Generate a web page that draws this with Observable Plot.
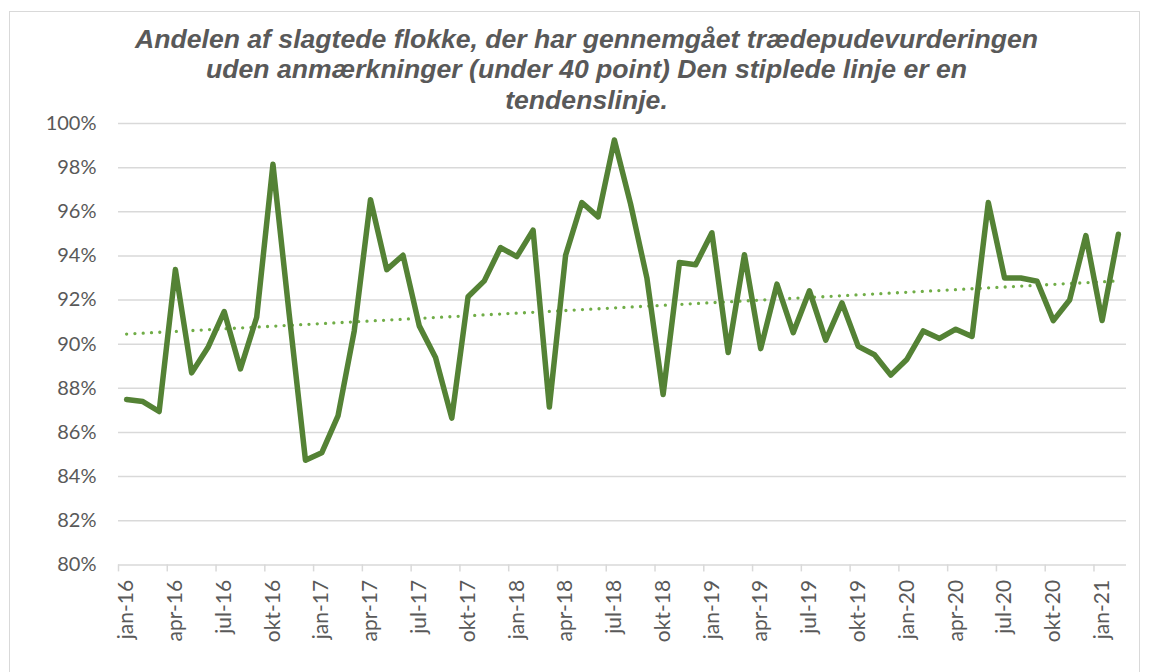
<!DOCTYPE html>
<html><head><meta charset="utf-8">
<script src="https://cdn.jsdelivr.net/npm/d3@7"></script>
<script src="https://cdn.jsdelivr.net/npm/@observablehq/plot@0.6"></script>
<style>
html,body{margin:0;padding:0;background:#fff;width:1149px;height:672px;overflow:hidden;}
#frame{position:absolute;left:9px;top:11px;width:1131px;height:700px;border:1px solid #d9d9d9;box-sizing:border-box;pointer-events:none;z-index:5;}
#title{position:relative;height:114px;box-sizing:border-box;padding-top:23.5px;padding-left:24px;font-family:"Liberation Sans",Arial,sans-serif;font-weight:bold;font-style:italic;font-size:26.6px;line-height:30.5px;color:#595959;text-align:center;white-space:nowrap;}
#chart{position:relative;}
#chart svg{background:transparent !important;}
</style></head><body>
<div id="frame"></div>
<div id="title">Andelen af slagtede flokke, der har gennemgået trædepudevurderingen<br>uden anmærkninger (under 40 point) Den stiplede linje er en<br>tendenslinje.</div>
<div id="chart"></div>
<script>
const months = ["jan-16","feb-16","mar-16","apr-16","maj-16","jun-16","jul-16","aug-16","sep-16","okt-16","nov-16","dec-16",
"jan-17","feb-17","mar-17","apr-17","maj-17","jun-17","jul-17","aug-17","sep-17","okt-17","nov-17","dec-17",
"jan-18","feb-18","mar-18","apr-18","maj-18","jun-18","jul-18","aug-18","sep-18","okt-18","nov-18","dec-18",
"jan-19","feb-19","mar-19","apr-19","maj-19","jun-19","jul-19","aug-19","sep-19","okt-19","nov-19","dec-19",
"jan-20","feb-20","mar-20","apr-20","maj-20","jun-20","jul-20","aug-20","sep-20","okt-20","nov-20","dec-20",
"jan-21","feb-21"];
const values = [87.49,87.40,86.95,93.38,88.70,89.85,91.48,88.88,91.22,98.15,91.35,84.74,
85.08,86.75,90.60,96.55,93.38,94.03,90.83,89.40,86.65,92.15,92.87,94.38,
93.97,95.17,87.15,94.03,96.42,95.77,99.25,96.35,93.00,87.72,93.70,93.60,
95.05,89.62,94.05,89.80,92.72,90.52,92.42,90.18,91.87,89.90,89.52,88.60,
89.32,90.60,90.26,90.68,90.35,96.42,93.00,93.00,92.85,91.07,92.00,94.92,
91.07,94.98];
const yTicks = [80,82,84,86,88,90,92,94,96,98,100];
const labelEvery = 3;

const data = months.map((m, i) => ({i, month: m, value: values[i]}));
const labelIdx = months.map((m, i) => i).filter(i => i % labelEvery === 0);
const tickPos = labelIdx.map(i => i - 0.5);

const chart = Plot.plot({
  width: 1149, height: 558,
  marginTop: 9, marginBottom: 107.6, marginLeft: 118, marginRight: 23,
  style: {fontFamily: "Lato, 'Open Sans', sans-serif", fontSize: "20px", color: "#595959", background: "transparent", overflow: "visible"},
  x: {type: "linear", domain: [-0.5, months.length - 0.5]},
  y: {domain: [80, 100]},
  marks: [
    Plot.gridY(yTicks, {stroke: "#d9d9d9", strokeOpacity: 1, strokeWidth: 1.5}),
    Plot.axisX(tickPos, {tickSize: 7, tickFormat: () => "", stroke: "#d9d9d9", strokeOpacity: 1, strokeWidth: 1.5, label: null}),
    Plot.axisX(labelIdx, {tickSize: 0, tickPadding: 15, tickRotate: -90, tickFormat: i => months[i], label: null, fill: "#595959", fontSize: 21}),
    Plot.axisY(yTicks, {tickSize: 0, tickPadding: 22, tickFormat: d => d + "%", label: null, fill: "#595959"}),
    Plot.linearRegressionY(data, {x: "i", y: "value", ci: 0, stroke: "#70ad47", strokeWidth: 3.3, strokeDasharray: "0 8.3", strokeLinecap: "round"}),
    Plot.line(data, {x: "i", y: "value", stroke: "#548235", strokeWidth: 5.5, strokeLinejoin: "round"})
  ]
});
document.getElementById("chart").appendChild(chart);
</script>
</body></html>
